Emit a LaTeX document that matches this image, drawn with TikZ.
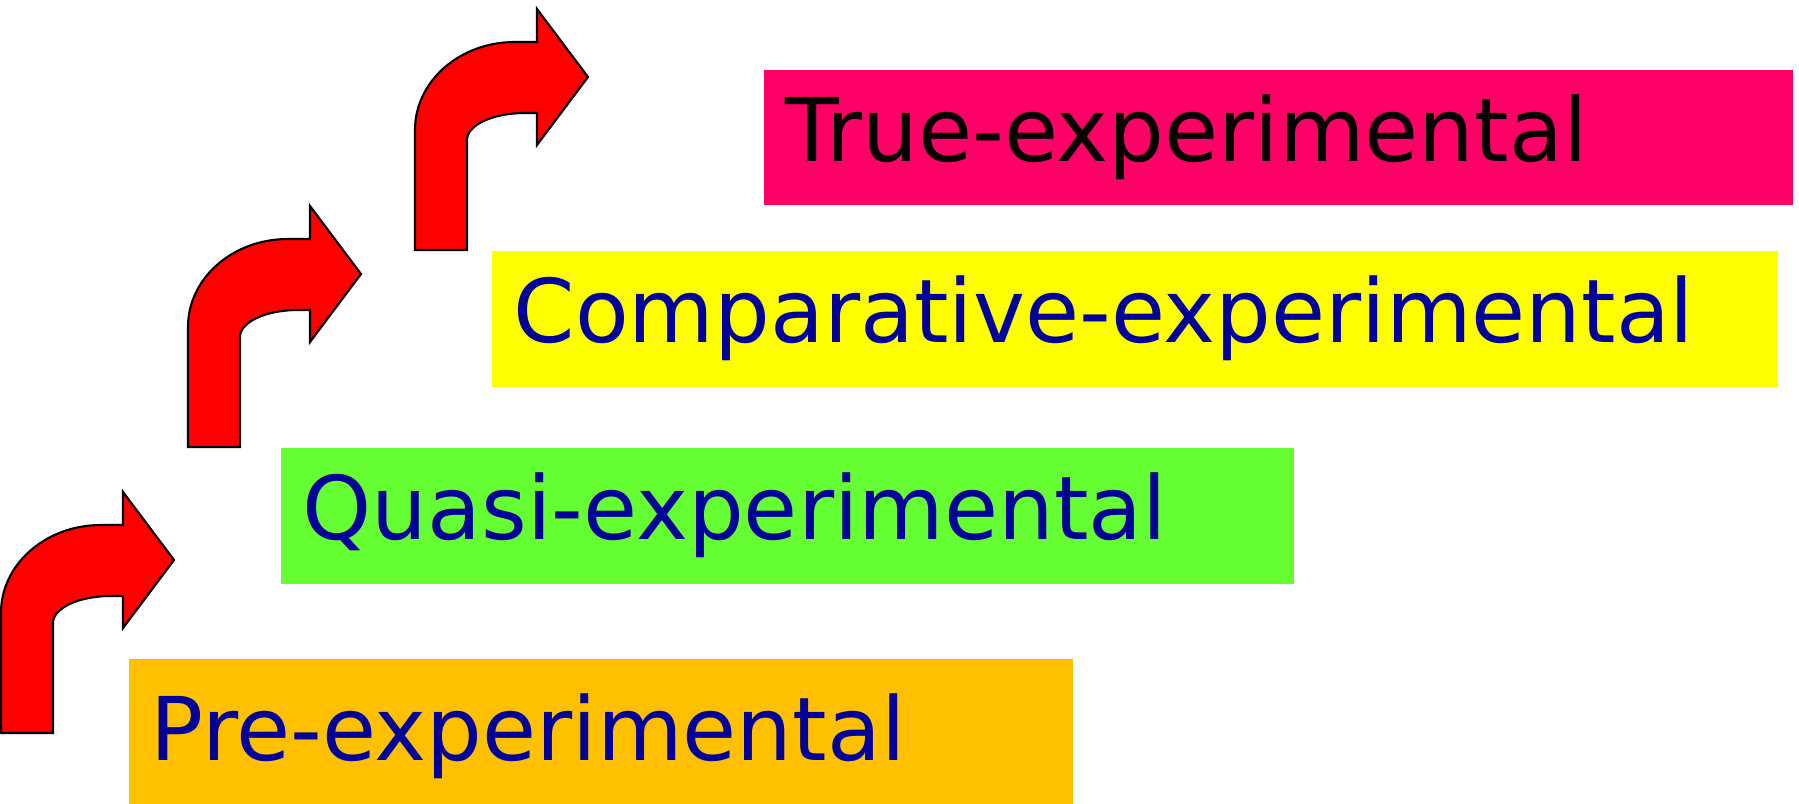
\documentclass[tikz,border=0pt]{standalone}
\usepackage{fontspec}
\usepackage{tikz}
\usetikzlibrary{positioning, calc}
\newfontfamily\stagefont{DejaVu Sans}
\definecolor{truecolor}{RGB}{255,0,102}
\definecolor{compcolor}{RGB}{255,255,0}
\definecolor{quasicolor}{RGB}{102,255,51}
\definecolor{precolor}{RGB}{255,192,0}
\definecolor{stagetext}{RGB}{0,0,153}
\definecolor{arrowred}{RGB}{255,0,0}

\begin{document}
\begin{tikzpicture}[
    x=0.01cm, y=-0.01cm,
    stagebox/.style={rectangle, anchor=north west, inner xsep=0.22cm, inner ysep=0pt, align=left,
        text=stagetext, font=\stagefont\fontsize{25pt}{30pt}\selectfont},
    arrowfill/.style={fill=arrowred, draw=black, line width=0.6pt, line join=miter},
    bentarrow/.pic={
        \draw[arrowfill] (0,0) -- (52,0) -- (52,-110)
            .. controls (52,-125) and (78,-137) .. (110,-137) -- (122,-137) -- (122,-105)
            -- (173,-173) -- (122,-241) -- (122,-208) -- (100,-208)
            .. controls (45,-208) and (0,-169) .. (0,-120) -- cycle;
    },
]
    \useasboundingbox (0,0) rectangle (1799,804);

    % Stages
    \node[stagebox, fill=truecolor, text=black, text width=9.85cm, minimum height=1.35cm] (true) at (763,69) {True-experimental};
    \node[stagebox, fill=compcolor, text width=12.42cm, minimum height=1.36cm] (comp) at (491,250) {Comparative-experimental};
    \node[stagebox, fill=quasicolor, text width=9.69cm, minimum height=1.36cm] (quasi) at (280,447) {Quasi-experimental};
    \node[stagebox, fill=precolor, text width=9.00cm, minimum height=1.55cm] (pre) at (128,658) {Pre-experimental};

    % Arrows
    \pic (stepA) at (1,733) {bentarrow};
    \pic (stepB) at (188,447) {bentarrow};
    \pic (stepC) at (415,250) {bentarrow};
\end{tikzpicture}
\end{document}
